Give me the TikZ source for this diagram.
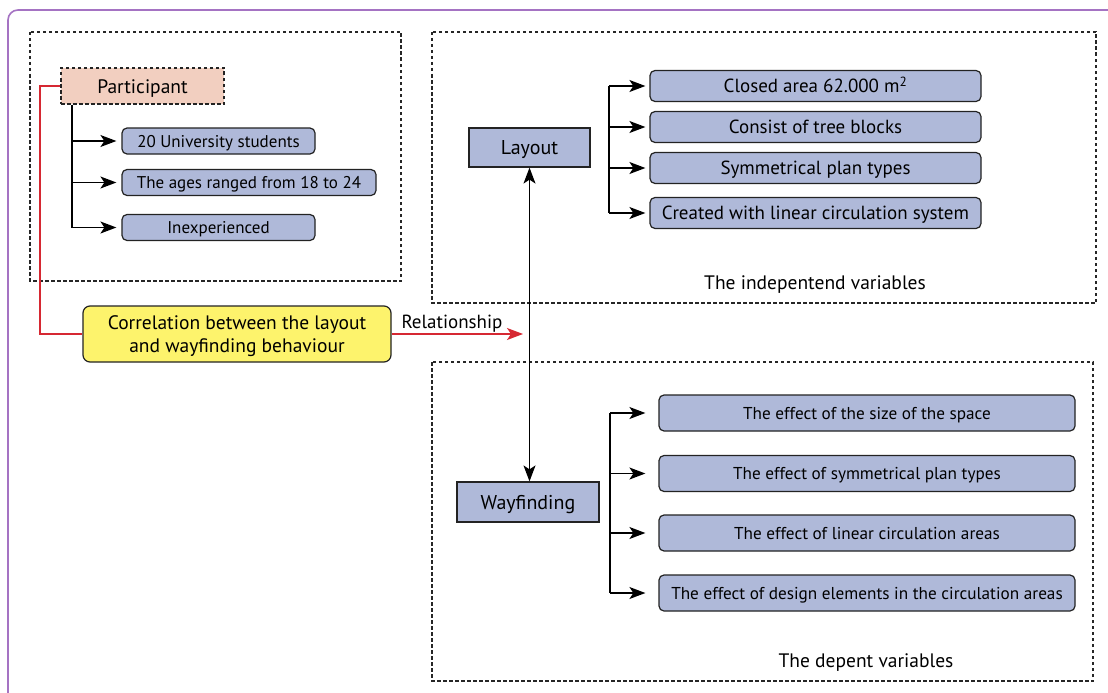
\documentclass[tikz,border=0pt]{standalone}
\usepackage{fontspec}
\setmainfont{PT Sans}
\usetikzlibrary{arrows.meta,positioning}

\definecolor{boxblue}{RGB}{175,185,217}
\definecolor{peach}{RGB}{242,207,192}
\definecolor{noteyellow}{RGB}{253,243,108}
\definecolor{linkred}{RGB}{214,40,50}
\definecolor{framepurple}{RGB}{165,115,195}
\definecolor{edgegray}{RGB}{35,35,35}

\tikzset{
  level/.style={text height=#1, text depth=0pt},
  item/.style={draw=edgegray, fill=boxblue, rounded corners=5pt, line width=1.2pt,
    inner sep=0pt, level=13.7pt, font=\fontsize{19}{22}\selectfont},
  smallitem/.style={item, level=12.2pt, font=\fontsize{17}{20}\selectfont},
  effect/.style={item, minimum width=416pt, minimum height=36pt, level=12.4pt,
    font=\fontsize{17.2}{20}\selectfont},
  factor/.style={item, minimum width=331pt, minimum height=31pt},
  varbox/.style={draw=edgegray, fill=boxblue, line width=1.2pt, inner sep=0pt, level=14.4pt,
    font=\fontsize{20}{23}\selectfont},
  group/.style={draw=black!85, line width=1.2pt, dash pattern=on 3.5pt off 2.5pt},
  arr/.style={-{Stealth[length=16pt,width=12pt,inset=4pt]}, line width=1.4pt},
  redline/.style={draw=linkred, line width=1.3pt},
  caption/.style={font=\fontsize{19.5}{22}\selectfont, inner sep=0pt, level=14pt}
}

\begin{document}
\begin{tikzpicture}[x=1pt, y=-1pt]
    \clip (0,0) rectangle (1108,693);
    \fill[white] (0,0) rectangle (1108,693);
    % outer frame
    \draw[framepurple, line width=1.6pt, rounded corners=10pt] (8,10) rectangle (1130,720);

    % dashed groups
    \draw[group] (30,32) rectangle (401,281);
    \draw[group] (432,32) rectangle (1096,303);
    \draw[group] (432,362) rectangle (1093,681);

    % participant side
    \node[draw=edgegray, fill=peach, line width=1.2pt, dash pattern=on 3.5pt off 2.5pt,
      minimum width=163pt, minimum height=36pt, inner sep=0pt, level=14pt,
      font=\fontsize{19.5}{22}\selectfont] (part) at (142.5,86) {Participant};
    \node[smallitem, minimum width=193pt, minimum height=26pt] (s1) at (218.5,141) {20 University students};
    \node[smallitem, minimum width=254pt, minimum height=26pt] (s2) at (249,182.5) {The ages ranged from 18 to 24};
    \node[smallitem, minimum width=193pt, minimum height=26pt] (s3) at (218.5,227.5) {Inexperienced};

    \coordinate (pbr) at (72,0);
    \draw[line width=1.4pt] (pbr |- part.south) -- (pbr |- s3.west);
    \foreach \i in {1,2,3}
      \draw[arr, shorten >=5pt] (pbr |- s\i.west) -- (s\i.west);

    % correlation
    \node[draw=edgegray, fill=noteyellow, rounded corners=7pt, line width=1.2pt,
      minimum width=308pt, minimum height=56pt, inner sep=0pt, align=center, text depth=0pt,
      font=\fontsize{19.5}{23}\selectfont] (corr) at (237,334)
      {Correlation between the layout\\and wayfinding behaviour};
    \coordinate (rc) at (40,0);
    \coordinate (relend) at (523,334);
    \draw[redline] (part.west) -| (rc |- corr.west) -- (corr.west);
    \draw[redline, -{Stealth[length=16pt,width=12pt,inset=4pt]}] (corr.east) -- (relend);
    \node[caption, font=\fontsize{19}{22}\selectfont] (rellab) at (452,321) {Relationship};

    % layout and wayfinding
    \node[varbox, minimum width=121pt, minimum height=39pt] (lay) at (529.5,147.5) {Layout};
    \node[varbox, minimum width=142pt, minimum height=40pt] (way) at (528,502) {Wayfinding};
    \draw[{Stealth[length=16pt,width=12pt,inset=4pt]}-{Stealth[length=16pt,width=12pt,inset=4pt]},
      line width=1.4pt] (lay.south) -- (lay.south |- way.north);

    % independent variables
    \node[factor] (c1) at (815.5,86) {Closed area 62.000 m\textsuperscript{2}};
    \node[factor] (c2) at (815.5,127) {Consist of tree blocks};
    \node[factor] (c3) at (815.5,168) {Symmetrical plan types};
    \node[factor] (c4) at (815.5,213) {Created with linear circulation system};
    \coordinate (lbr) at (609,0);
    \draw[line width=1.4pt] (lbr |- c1.west) -- (lbr |- c4.west);
    \foreach \i in {1,...,4}
      \draw[arr, shorten >=4pt] (lbr |- c\i.west) -- (c\i.west);
    \node[caption] (indep) at (815,282) {The indepentend variables};

    % dependent variables
    \node[effect] (e1) at (867,413) {The effect of the size of the space};
    \node[effect] (e2) at (867,473.5) {The effect of symmetrical plan types};
    \node[effect] (e3) at (867,533) {The effect of linear circulation areas};
    \node[effect] (e4) at (867,593) {The effect of design elements in the circulation areas};
    \coordinate (wbr) at (610,0);
    \draw[line width=1.4pt] (wbr |- e1.west) -- (wbr |- e4.west);
    \foreach \i in {1,...,4}
      \draw[arr, shorten >=13pt] (wbr |- e\i.west) -- (e\i.west);
    \node[caption] (dep) at (866,660) {The depent variables};
\end{tikzpicture}
\end{document}
